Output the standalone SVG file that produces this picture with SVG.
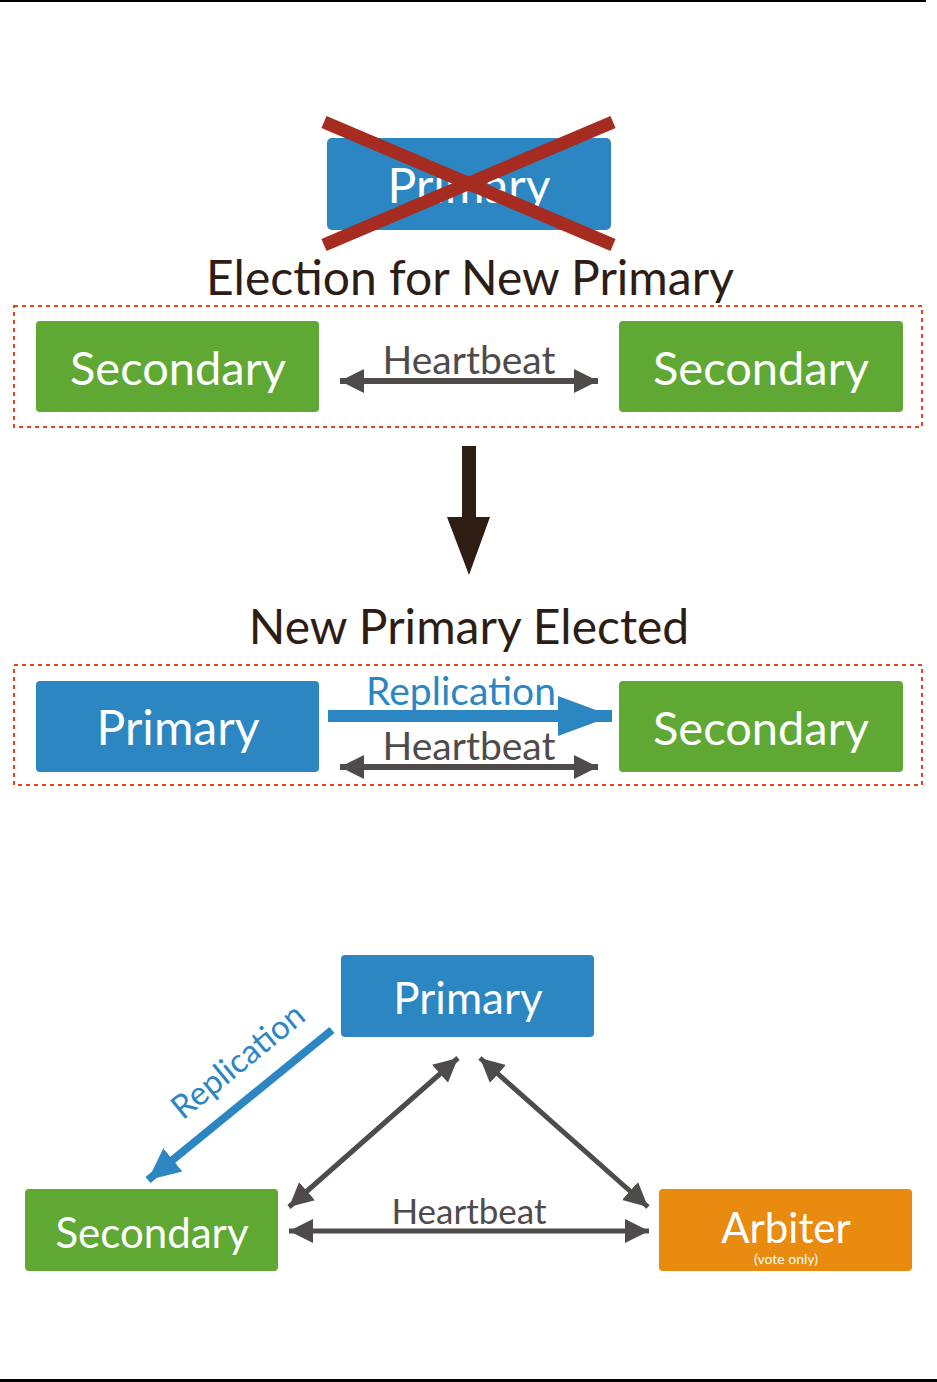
<svg xmlns="http://www.w3.org/2000/svg" width="937" height="1382" viewBox="0 0 937 1382">
<style>
.lbl{font-family:Lato,"Open Sans","Liberation Sans",sans-serif;fill:#fff;text-anchor:middle}
.ttl{font-family:Lato,"Open Sans","Liberation Sans",sans-serif;fill:#2e1d14;text-anchor:middle;font-size:48px}
.hb{font-family:Lato,"Open Sans","Liberation Sans",sans-serif;fill:#4f4b4b;text-anchor:middle;font-size:39px}
.rep{font-family:Lato,"Open Sans","Liberation Sans",sans-serif;fill:#2b86c2;text-anchor:middle;font-size:39px}
.blue{fill:#2b86c2}
.green{fill:#5fa834}
.orange{fill:#e88b0e}
.dash{fill:none;stroke:#e0481a;stroke-width:2;stroke-dasharray:4 4}
.hbl{stroke:#4f4b4b;stroke-width:6;fill:none}
</style>
<defs>
<marker id="ah" markerUnits="userSpaceOnUse" markerWidth="26" markerHeight="28" viewBox="0 0 26 28" refX="24" refY="14" orient="auto-start-reverse">
<path d="M0,2 L24,14 L0,26 Z" fill="#4f4b4b"/>
</marker>
<marker id="bh" markerUnits="userSpaceOnUse" markerWidth="56" markerHeight="42" viewBox="0 0 56 42" refX="54" refY="21" orient="auto">
<path d="M0,1 L54,21 L0,41 Z" fill="#2b86c2"/>
</marker>
<marker id="bh2" markerUnits="userSpaceOnUse" markerWidth="34" markerHeight="32" viewBox="0 0 34 32" refX="32" refY="16" orient="auto">
<path d="M0,1 L32,16 L0,31 Z" fill="#2b86c2"/>
</marker>
</defs>
<rect x="0" y="0" width="926" height="2" fill="#000"/>
<rect x="0" y="1379" width="937" height="3" fill="#000"/>

<g id="old-primary">
<rect x="327" y="138" width="284" height="92" rx="5" class="blue"/>
<text x="469" y="203" class="lbl" font-size="48">Primary</text>
<line x1="324" y1="122" x2="613" y2="245" stroke="#a62b20" stroke-width="13"/>
<line x1="613" y1="122" x2="324" y2="245" stroke="#a62b20" stroke-width="13"/>
</g>

<g id="titles">
<text x="470" y="295" class="ttl">Election for New Primary</text>
<text x="469" y="644" class="ttl">New Primary Elected</text>
</g>

<g id="group1">
<rect x="14" y="306" width="908" height="121" class="dash"/>
</g>
<g id="sec1">
<rect x="36" y="321" width="283" height="91" rx="4" class="green"/>
<text x="178" y="385" class="lbl" font-size="47">Secondary</text>
</g>
<g id="sec2">
<rect x="619" y="321" width="284" height="91" rx="4" class="green"/>
<text x="761" y="385" class="lbl" font-size="47">Secondary</text>
</g>

<g id="group2">
<rect x="14" y="665" width="908" height="120" class="dash"/>
</g>
<g id="primary2">
<rect x="36" y="681" width="283" height="91" rx="4" class="blue"/>
<text x="178" y="745" class="lbl" font-size="48">Primary</text>
</g>
<g id="sec3">
<rect x="619" y="681" width="284" height="91" rx="4" class="green"/>
<text x="761" y="745" class="lbl" font-size="47">Secondary</text>
</g>

<g id="primary3">
<rect x="341" y="955" width="253" height="82" rx="4" class="blue"/>
<text x="468" y="1014" class="lbl" font-size="44">Primary</text>
</g>
<g id="sec4">
<rect x="25" y="1189" width="253" height="82" rx="4" class="green"/>
<text x="152" y="1248" class="lbl" font-size="42">Secondary</text>
</g>
<g id="arbiter">
<rect x="659" y="1189" width="253" height="82" rx="4" class="orange"/>
<text x="786" y="1243" class="lbl" font-size="42">Arbiter</text>
<text x="786" y="1264" class="lbl" font-size="14">(vote only)</text>
</g>

<g id="connectors">
<line x1="340" y1="381" x2="598" y2="381" class="hbl" marker-start="url(#ah)" marker-end="url(#ah)"/>
<text x="469" y="374" class="hb">Heartbeat</text>
<path d="M462,446 H476 V517 H490 L469,575 L447,517 H462 Z" fill="#2e1d13"/>
<line x1="328" y1="716" x2="612" y2="716" stroke="#2b86c2" stroke-width="12" marker-end="url(#bh)"/>
<text x="461" y="705" class="rep">Replication</text>
<line x1="340" y1="767" x2="598" y2="767" class="hbl" marker-start="url(#ah)" marker-end="url(#ah)"/>
<text x="469" y="760" class="hb">Heartbeat</text>
<line x1="332" y1="1030" x2="148" y2="1180" stroke="#2b86c2" stroke-width="8" marker-end="url(#bh2)"/>
<text x="0" y="0" class="rep" style="font-size:33px" transform="translate(245,1070) rotate(-39.3)">Replication</text>
<line x1="458" y1="1058" x2="289" y2="1207" stroke="#4f4b4b" stroke-width="5" marker-start="url(#ah)" marker-end="url(#ah)"/>
<line x1="480" y1="1058" x2="648" y2="1207" stroke="#4f4b4b" stroke-width="5" marker-start="url(#ah)" marker-end="url(#ah)"/>
<line x1="289" y1="1231" x2="649" y2="1231" stroke="#4f4b4b" stroke-width="5" marker-start="url(#ah)" marker-end="url(#ah)"/>
<text x="469" y="1224" class="hb" style="font-size:35px">Heartbeat</text>
</g>
</svg>
